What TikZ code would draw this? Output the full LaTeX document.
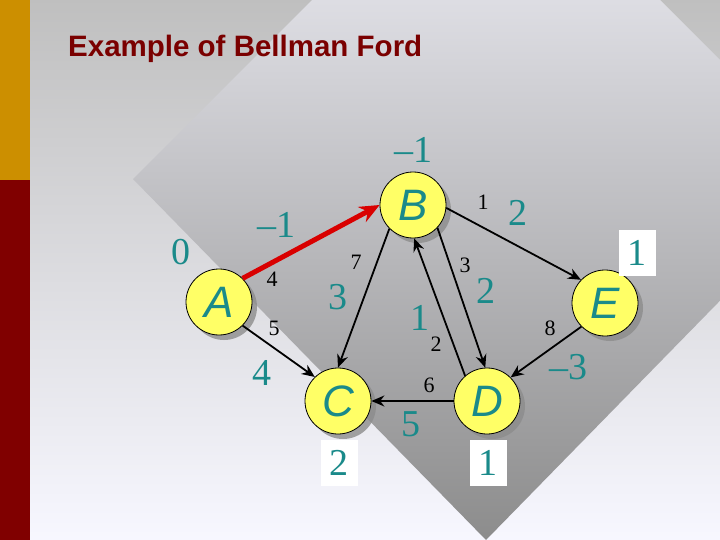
\documentclass[tikz,border=0pt]{standalone}
\usepackage{fontspec}
\setmainfont{Liberation Serif}
\setsansfont{Liberation Sans}
\usetikzlibrary{arrows.meta,shadows}
\definecolor{teal2}{HTML}{1A8A8A}
\definecolor{titlered}{HTML}{7A0000}
\definecolor{nodeyel}{HTML}{FFFF66}
\begin{document}
\begin{tikzpicture}[x=1pt,y=-1pt,
  vert/.style={circle,draw=black,line width=0.8pt,fill=nodeyel,minimum size=66pt,inner sep=0pt,
    font=\sffamily\itshape\fontsize{44}{44}\selectfont,text=teal2,
    drop shadow={shadow xshift=5pt,shadow yshift=-5pt,fill=black!45,opacity=0.8}},
  w/.style={font=\fontsize{22}{22}\selectfont,text=black,inner sep=0pt},
  d/.style={font=\fontsize{38}{38}\selectfont,text=teal2,inner sep=0pt},
  db/.style={d,fill=white,minimum width=37pt,minimum height=46pt},
  e/.style={draw=black,line width=1.8pt,-{Stealth[length=13pt,width=11pt]}},
  r/.style={draw=red!85!black,line width=5pt,-{Stealth[length=20pt,width=17pt]}}]
\useasboundingbox (0,0) rectangle (720,540);
% background
\shade[top color=black!25,bottom color=blue!3!white] (0,0) rectangle (720,540);
\shade[top color=blue!3!white,bottom color=black!45] (486,-174) -- (839,179) -- (486,540) -- (133,179) -- cycle;
\fill[red!50!black] (0,0) rectangle (30,540);
\fill[orange!60!yellow!80!black] (0,0) rectangle (30,180);
\node[anchor=base west,font=\sffamily\bfseries\fontsize{29.5}{30}\selectfont,text=titlered,inner sep=0pt] (title) at (68,57) {Example of Bellman Ford};
% vertices
\node[vert] (A) at (219,302) {A};
\node[vert] (B) at (413,205) {B};
\node[vert] (C) at (338,401) {C};
\node[vert] (D) at (487,401) {D};
\node[vert] (E) at (605,303) {E};
% edges
\draw[r] (A.45) -- (B.180);
\draw[e] (A.-45) -- (C.134);
\draw[e] (B.-135) -- (C.90);
\draw[e] (B.-43) -- (D.93);
\draw[e] (D.131) -- (B.-88);
\draw[e] (B.-5) -- (E.136);
\draw[e] (E.-135) -- (D.45);
\draw[e] (D.180) -- (C.0);
% weights
\node[w] (w1) at (272,279) {4};
\node[w] (w2) at (274,328) {5};
\node[w] (w3) at (356,262) {7};
\node[w] (w4) at (483,202) {1};
\node[w] (w5) at (465,265) {3};
\node[w] (w6) at (436,344) {2};
\node[w] (w7) at (550,328) {8};
\node[w] (w8) at (429,385) {6};
% distances
\node[d] (dB) at (413,150) {\textendash1};
\node[d] (dAB) at (276,225) {\textendash1};
\node[d] (dA) at (181,252) {0};
\node[d] (dBE) at (518,213) {2};
\node[db] (dE) at (637,253) {1};
\node[d] (dBC) at (338,297) {3};
\node[d] (dDB) at (420,318) {1};
\node[d] (dBD) at (486,291) {2};
\node[d] (dAC) at (262,373) {4};
\node[d] (dED) at (568,367) {\textendash3};
\node[d] (dDC) at (411,424) {5};
\node[db] (dC) at (339,463) {2};
\node[db] (dD) at (488,463) {1};
\end{tikzpicture}
\end{document}
